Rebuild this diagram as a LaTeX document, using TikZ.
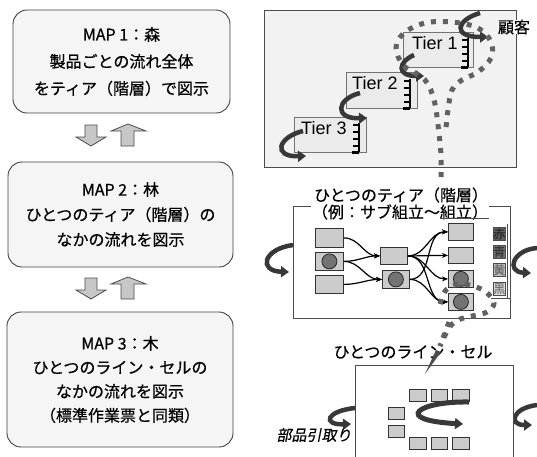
\documentclass[tikz,border=0pt]{standalone}
\usepackage{fontspec}
\setmainfont[FakeBold=0.5]{Noto Sans CJK JP}
\newfontfamily\latinf{Liberation Sans}
\newfontfamily\jpit[FakeSlant=0.2,FakeBold=0.5]{Noto Sans CJK JP}
\usetikzlibrary{arrows.meta}
\tikzset{
  mapbox/.style={draw=black!75, fill=black!4, rounded corners=14pt, line width=0.9pt, align=center, inner sep=0pt},
  blockarrow/.style={draw=black!70, fill=black!22, line width=0.8pt},
  panel/.style={draw=black!70, line width=0.9pt},
  tierbox/.style={draw=black!55, fill=black!8, line width=0.8pt, inner sep=0pt, anchor=north west},
  ribbon/.style={draw=black!78, line width=4.5pt, -{Triangle[length=8pt,width=11pt]}},
  dotpath/.style={draw=black!62, line width=5pt, dash pattern=on 5pt off 7pt},
  pbox/.style={draw=black!80, fill=black!20, line width=0.8pt, inner sep=0pt, anchor=north west},
  dotc/.style={circle, fill=black!55, draw=black!85, line width=0.8pt, minimum size=15pt, inner sep=0pt},
  flow/.style={draw=black, line width=1.2pt, -{Stealth[length=6pt,width=5pt]}},
  lab/.style={font=\fontsize{16}{18}\selectfont, inner sep=1pt, text=black},
  tiertext/.style={font=\latinf\fontsize{18}{20}\selectfont, inner sep=0pt, anchor=west},
  colorlab/.style={draw=black!70, line width=0.6pt, minimum width=12pt, minimum height=13pt, inner sep=0pt, font=\fontsize{12}{12}\selectfont, anchor=north west},
  comb/.pic={
    \draw[line width=1.3pt] (0,-29) -- (0,0);
    \foreach \yy in {-27,-20,-13,-6} \draw[line width=1.3pt] (0,\yy) -- (-6,\yy);
    \draw[line width=3pt] (-7,0) -- (0,0);
  }
}
\begin{document}
\begin{tikzpicture}[x=1pt,y=-1pt]
\useasboundingbox (0,0) rectangle (537,456);

% ---------- left column ----------
\node[mapbox, minimum width=217pt, minimum height=103pt, font=\fontsize{16}{27}\selectfont] (m1) at (121.5,61.5)
  {MAP 1：森\\製品ごとの流れ全体\\をティア（階層）で図示};
\node[mapbox, minimum width=225pt, minimum height=105pt, font=\fontsize{16}{25}\selectfont] (m2) at (120.5,214.5)
  {MAP 2：林\\ひとつのティア（階層）の\\なかの流れを図示};
\node[mapbox, minimum width=226pt, minimum height=135pt, font=\fontsize{16}{24}\selectfont] (m3) at (120,379.5)
  {MAP 3：木\\ひとつのライン・セルの\\なかの流れを図示\\（標準作業票と同類）};

\foreach \dy in {0,153} {
  \draw[blockarrow] (85,125+\dy) -- (97,125+\dy) -- (97,137+\dy) -- (106,137+\dy) -- (91,146+\dy) -- (76,137+\dy) -- (85,137+\dy) -- cycle;
  \draw[blockarrow] (121,146+\dy) -- (134,146+\dy) -- (134,131+\dy) -- (146,131+\dy) -- (128,124+\dy) -- (111,131+\dy) -- (121,131+\dy) -- cycle;
}

% ---------- top right panel ----------
\draw[panel, fill=black!5] (264,10) rectangle (516,167);
\node[tierbox, minimum width=70pt, minimum height=35pt] (t1) at (403,32) {};
\node[tierbox, minimum width=71pt, minimum height=36pt] (t2) at (346,72) {};
\node[tierbox, minimum width=72pt, minimum height=35pt] (t3) at (294,117) {};
\node[tiertext] (t1l) at (412,43) {Tier 1};
\node[tiertext] (t2l) at (352,83) {Tier 2};
\node[tiertext] (t3l) at (301,128) {Tier 3};
\pic at (468,67) {comb};
\pic at (410,108) {comb};
\pic at (359,152) {comb};
\node[lab, fill=white, inner sep=0pt] (cust) at (514,27) {顧客};

\draw[ribbon] (303,131) .. controls (278,137) and (272,157) .. (306,156);
\draw[ribbon] (360,93) .. controls (336,99) and (334,119) .. (367,118);
\draw[ribbon] (414,55) .. controls (398,62) and (396,76) .. (424,76);
\draw[ribbon] (480,13) .. controls (456,20) and (452,37) .. (488,37);

\draw[dotpath] plot[smooth, tension=0.6] coordinates {(441,177) (441,155) (438,125) (434,100) (425,80) (404,66) (396,48) (404,33) (425,23) (452,22) (478,28) (491,42) (491,58) (478,72) (462,80) (452,90) (448,110) (446,128)};

% ---------- middle right panel ----------
\draw[ribbon] (293,245) .. controls (263,249) and (258,271) .. (289,272);
\draw[ribbon] (537,248) .. controls (512,250) and (506,272) .. (531,273);
\draw[panel, fill=white] (293,206) rectangle (510,318);
\node[lab] (tierTitle) at (401,195) {ひとつのティア（階層）};
\node[lab, fill=white] (tierSub) at (400,212) {（例：サブ組立～組立）};
\draw[black!70, line width=0.9pt] (440,218.5) -- (489,218.5);

\node[pbox, minimum width=28pt, minimum height=19pt] (a) at (315,228) {};
\node[pbox, minimum width=28pt, minimum height=18pt] (b) at (315,252) {};
\node[pbox, minimum width=28pt, minimum height=18pt] (c) at (315,275) {};
\node[pbox, minimum width=27pt, minimum height=17pt] (d) at (380,247) {};
\node[pbox, minimum width=27pt, minimum height=18pt] (e) at (382,270) {};
\node[pbox, minimum width=25pt, minimum height=17pt] (f) at (448,223) {};
\node[pbox, minimum width=25pt, minimum height=16pt] (g) at (448,247) {};
\node[pbox, minimum width=25pt, minimum height=17pt] (h) at (448,270) {};
\node[pbox, minimum width=25pt, minimum height=17pt] (i) at (448,293) {};
\node[dotc] (bc) at (b.center) {};
\node[dotc] (ec) at (e.center) {};
\node[dotc] (hc) at (h.center) {};
\node[dotc] (ic) at (i.center) {};

\draw[flow] (a.east) to[out=0,in=180] (d.west);
\draw[flow] (b.east) to[out=0,in=180] (d.west);
\draw[flow] (b.east) to[out=0,in=180] (e.west);
\draw[flow] (c.east) to[out=0,in=180] (e.west);
\draw[flow] (d.east) to[out=0,in=180] (f.west);
\draw[flow] (d.east) to[out=0,in=180] (g.west);
\draw[flow] (d.east) to[out=0,in=180] (h.west);
\draw[flow] (d.east) to[out=0,in=180] (i.west);
\draw[flow] (e.east) to[out=0,in=180] (f.west);
\draw[flow] (e.east) to[out=0,in=180] (i.west);

\node[colorlab, fill=black!62, text=black!85] (red) at (493,227) {赤};
\node[colorlab, fill=black!55, text=black!80] (blue) at (493,245) {青};
\node[colorlab, fill=black!25, text=black!60] (yellow) at (493,263) {黄};
\node[colorlab, fill=black!12, text=black!55] (black) at (493,282) {黒};
\draw[black!70, line width=0.6pt] (507,224) -- (507,298);
\draw[panel] (491,298) -- (510,298);

\draw[dotpath] plot[smooth, tension=0.6] coordinates {(440,304) (446,290) (459,284) (473,286) (486,292) (494,303) (487,312) (472,316) (458,320) (449,328) (440,346)};

% ---------- bottom right panel ----------
\draw[ribbon] (355,408) .. controls (326,411) and (322,425) .. (351,424);
\draw[ribbon] (537,405) .. controls (512,408) and (508,425) .. (532,425);
\draw[panel, fill=white] (355,457) -- (355,365) -- (513,365) -- (513,457);
\node[lab] (lineTitle) at (413,352) {ひとつのライン・セル};
\draw[dotpath] (449,322) -- (440,346);
\fill[black!70] (436,350) -- (441,352) -- (425,374) -- cycle;

\node[pbox, minimum width=17pt, minimum height=12pt] (s1) at (409,389) {};
\node[pbox, minimum width=16pt, minimum height=12pt] (s2) at (431,389) {};
\node[pbox, minimum width=17pt, minimum height=12pt] (s3) at (452,389) {};
\node[pbox, minimum width=16pt, minimum height=12pt] (s4) at (388,407) {};
\node[pbox, minimum width=16pt, minimum height=12pt] (s5) at (388,425) {};
\node[pbox, minimum width=17pt, minimum height=12pt] (s6) at (409,437) {};
\node[pbox, minimum width=16pt, minimum height=12pt] (s7) at (431,437) {};
\node[pbox, minimum width=17pt, minimum height=12pt] (s8) at (452,437) {};
\draw[ribbon, line width=5pt] (469,402) .. controls (418,401) and (392,420) .. (463,424);

\node[lab, font=\jpit\fontsize{15}{17}\selectfont] (parts) at (314,435) {部品引取り};
\end{tikzpicture}
\end{document}
